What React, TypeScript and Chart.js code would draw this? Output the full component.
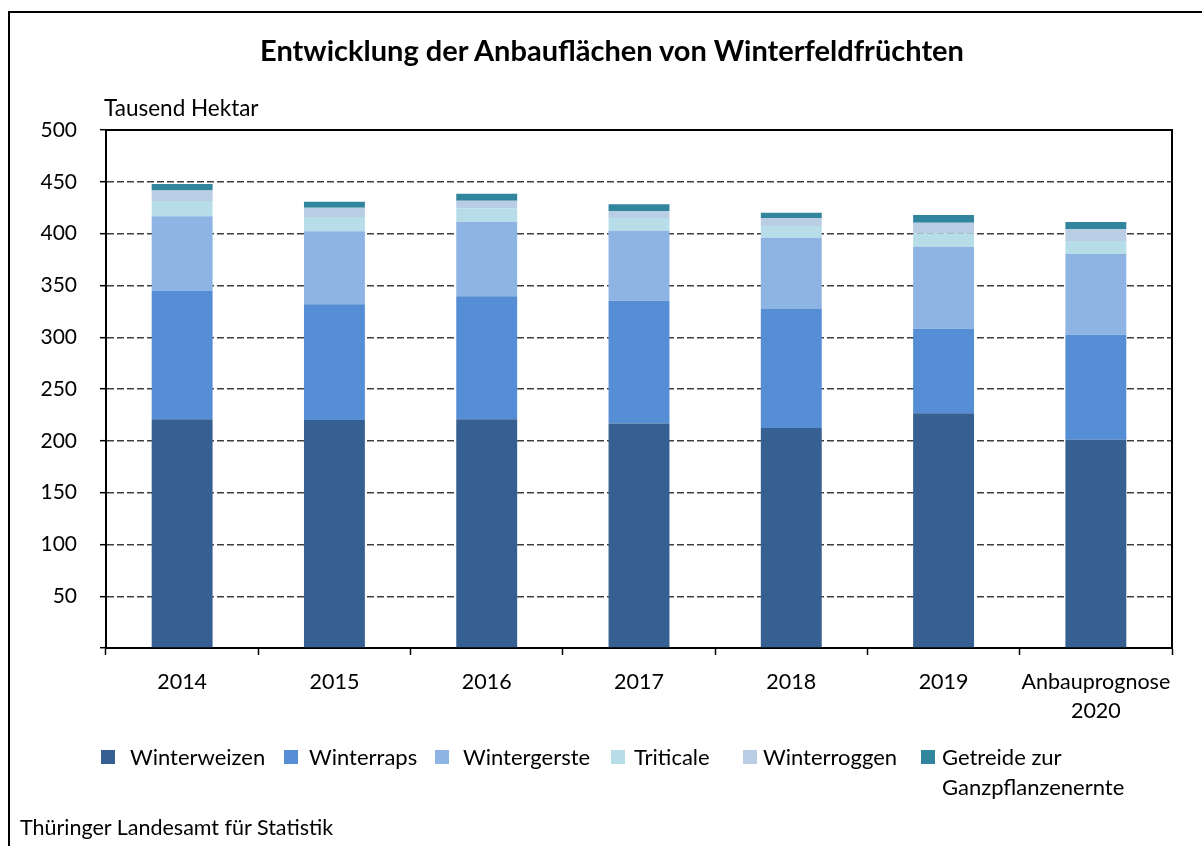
import React, { useEffect, useRef } from "react";
import { Chart, registerables } from "chart.js";

Chart.register(...registerables);

const categories: (string | string[])[] = ["2014", "2015", "2016", "2017", "2018", "2019", ["Anbauprognose", "2020"]];

const seriesNames = ["Winterweizen", "Winterraps", "Wintergerste", "Triticale", "Winterroggen", "Getreide zur Ganzpflanzenernte"];

const winterweizen = [220.7, 220.0, 220.7, 216.8, 212.4, 226.5, 201.0];
const winterraps = [123.9, 111.7, 118.8, 118.4, 115.2, 81.7, 101.4];
const wintergerste = [72.1, 70.5, 72.0, 67.6, 68.5, 79.2, 77.9];
const triticale = [14.8, 13.8, 12.9, 12.2, 11.2, 12.9, 12.6];
const winterroggen = [10.0, 9.0, 7.4, 6.8, 7.7, 10.2, 11.2];
const getreideGPE = [6.4, 5.8, 6.7, 6.5, 5.2, 7.5, 7.1];

const seriesColors = ["#366092", "#558ED5", "#8EB4E3", "#B7DEE8", "#B9CDE5", "#31859C"];

const yTicks = { min: 0, max: 500, step: 50 };

// legend layout (left edge of each swatch and of each label, in px)
const legendSwatchX = [101, 284, 435, 611, 743, 921];
const legendTextX = [130, 309, 463, 634, 763, 942];

const FONT = "Lato, 'Open Sans', sans-serif";

const plotBox = {
  id: "plotBox",
  afterDraw(chart: any) {
    const { ctx, chartArea } = chart;
    ctx.save();
    ctx.strokeStyle = "#000";
    ctx.lineWidth = 2;
    ctx.beginPath();
    ctx.moveTo(chartArea.left, chartArea.top);
    ctx.lineTo(chartArea.right, chartArea.top);
    ctx.lineTo(chartArea.right, chartArea.bottom);
    ctx.stroke();
    ctx.restore();
  },
};

export default function App() {
  const ref = useRef<HTMLCanvasElement | null>(null);

  useEffect(() => {
    if (!ref.current) return;
    const values = [winterweizen, winterraps, wintergerste, triticale, winterroggen, getreideGPE];
    const chart = new Chart(ref.current, {
      type: "bar",
      data: {
        labels: categories,
        datasets: values.map((v, i) => ({
          label: seriesNames[i],
          data: v,
          backgroundColor: seriesColors[i],
          borderWidth: 0,
          barPercentage: 0.4,
          categoryPercentage: 1,
        })),
      },
      options: {
        responsive: false,
        animation: false,
        devicePixelRatio: 1,
        layout: { padding: { top: 130, right: 30, left: 0, bottom: 0 } },
        plugins: {
          legend: { display: false },
          title: { display: false },
          tooltip: { enabled: false },
        },
        scales: {
          x: {
            stacked: true,
            afterFit: (s: any) => {
              s.height = 198;
            },
            grid: {
              offset: true,
              drawOnChartArea: false,
              drawTicks: true,
              tickLength: 7,
              tickColor: "#000",
              tickWidth: 1.5,
            },
            border: { display: true, color: "#000", width: 2 },
            ticks: {
              color: "#000",
              font: { family: FONT, size: 21.5, lineHeight: 1.38 },
              padding: 12,
              maxRotation: 0,
              autoSkip: false,
            },
          },
          y: {
            stacked: true,
            min: yTicks.min,
            max: yTicks.max,
            afterFit: (s: any) => {
              s.width = 106;
            },
            grid: {
              color: (c: any) =>
                c.tick && (c.tick.value === yTicks.min || c.tick.value === yTicks.max) ? "rgba(0,0,0,0)" : "#404040",
              lineWidth: 1.4,
              drawTicks: true,
              tickLength: 6,
              tickColor: "#000",
              tickWidth: 1.5,
            },
            border: { display: true, color: "#000", width: 2, dash: [7, 3] },
            ticks: {
              stepSize: yTicks.step,
              color: "#000",
              font: { family: FONT, size: 21 },
              padding: 23,
              callback: (v: any) => (v === 0 ? "" : String(v)),
            },
          },
        },
      },
      plugins: [plotBox],
    });
    return () => chart.destroy();
  }, []);

  const text: React.CSSProperties = { position: "absolute", fontFamily: FONT, color: "#000", whiteSpace: "nowrap" };

  return (
    <div style={{ position: "absolute", left: 0, top: 0, width: 1202, height: 846, overflow: "hidden", background: "#fff" }}>
      <div
        style={{
          position: "absolute",
          left: 8,
          top: 11,
          width: 1300,
          height: 900,
          borderLeft: "2px solid #000",
          borderTop: "2px solid #000",
        }}
      />
      <canvas ref={ref} width={1202} height={846} style={{ position: "absolute", left: 0, top: 0, width: 1202, height: 846 }} />
      <div style={{ ...text, left: 0, width: 1224, top: 33, lineHeight: "34px", fontSize: 29, fontWeight: 700, textAlign: "center" }}>
        Entwicklung der Anbauflächen von Winterfeldfrüchten
      </div>
      <div style={{ ...text, left: 104, top: 95, lineHeight: "26px", fontSize: 22.5 }}>Tausend Hektar</div>
      {seriesNames.map((n, i) => (
        <React.Fragment key={n}>
          <div style={{ position: "absolute", left: legendSwatchX[i], top: 750, width: 14, height: 14, background: seriesColors[i] }} />
          <div
            style={{
              position: "absolute",
              left: legendTextX[i],
              top: 742,
              fontFamily: FONT,
              fontSize: 22,
              lineHeight: "30px",
              maxWidth: 220,
              color: "#000",
            }}
          >
            {n}
          </div>
        </React.Fragment>
      ))}
      <div style={{ ...text, left: 20, top: 813, lineHeight: "28px", fontSize: 21.5 }}>Thüringer Landesamt für Statistik</div>
    </div>
  );
}
